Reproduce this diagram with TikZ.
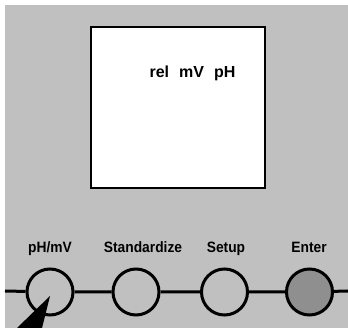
\documentclass[tikz,border=0pt]{standalone}
\usepackage{fontspec}
\setmainfont{Liberation Sans}
\newfontfamily\keyfont[FakeStretch=0.92]{Liberation Sans}
\definecolor{panel}{HTML}{C0C0C0}
\definecolor{enterkey}{HTML}{8F8F8F}

\tikzset{
  key/.style={circle, draw, line width=3pt, minimum size=46pt, inner sep=0pt},
  keylabel/.style={anchor=base, font=\keyfont\fontsize{15}{18}\selectfont\bfseries},
}

\begin{document}
\begin{tikzpicture}[x=1pt, y=-1pt]

\useasboundingbox (0,0) rectangle (348,328);
\fill[panel] (5,5) rectangle (348,328);

% display
\draw[line width=2pt, fill=white] (91,27) rectangle (265,188);
\node[anchor=base, font=\fontsize{16}{19}\selectfont\bfseries] (units) at (192.5,78) {rel\hspace{10pt}mV\hspace{10pt}pH};

% keys
\node[keylabel] (lphmv) at (50,253) {pH/mV};
\node[keylabel] (lstd) at (143,253) {Standardize};
\node[keylabel] (lsetup) at (226,253) {Setup};
\node[keylabel] (lenter) at (309,253) {Enter};

\coordinate (left) at (5,291);
\coordinate (right) at (348,291);
\node[key] (phmv) at (50,292) {};
\node[key] (std) at (136,292) {};
\node[key] (setup) at (224.5,292) {};
\node[key, fill=enterkey] (enter) at (309.5,292) {};

\draw[line width=3pt] (left) -- (phmv) -- (std) -- (setup) -- (enter) -- (right);

% pointer
\coordinate (tip) at (50,296);
\fill (tip) -- (42,328) -- (17,328) -- cycle;

\end{tikzpicture}
\end{document}
